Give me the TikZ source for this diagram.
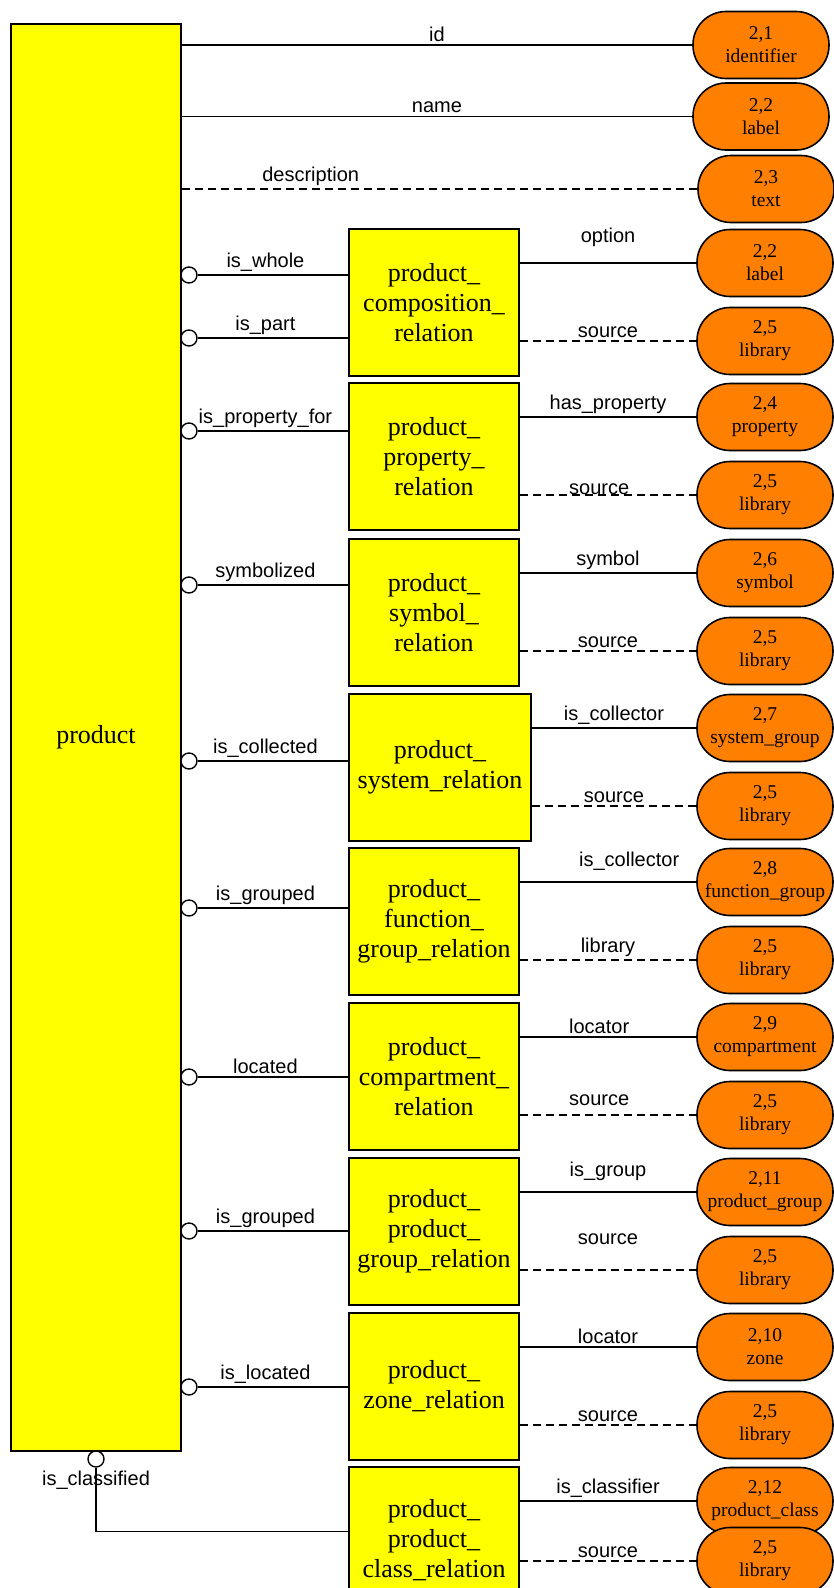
\documentclass[tikz,border=0pt]{standalone}
\usepackage{fontspec}
\setmainfont{Liberation Serif}
\newfontfamily\sansfnt{Liberation Sans}
\usepackage{xcolor}

\definecolor{entyellow}{RGB}{255,255,0}
\definecolor{attrorange}{RGB}{255,128,0}

\begin{document}
\begin{tikzpicture}[x=1pt, y=-1pt,
    entity/.style={draw, line width=1.6pt, fill=entyellow, inner sep=0pt, font=\fontsize{26}{30}\selectfont},
    relbox/.style={entity, minimum height=147pt, align=center},
    attr/.style={draw, line width=1.6pt, fill=attrorange, rounded corners=33pt, minimum width=136pt, minimum height=67pt, inner sep=0pt, align=center, font=\fontsize{19.5}{23}\selectfont},
    ring/.style={circle, draw, line width=1.4pt, fill=white, minimum size=16pt, inner sep=0pt},
    lbl/.style={font=\sansfnt\fontsize{20}{23}\selectfont, inner sep=3pt},
    link/.style={line width=1.4pt},
    optional/.style={link, dash pattern=on 8pt off 5pt}]

\useasboundingbox (0,0) rectangle (834,1588);

% the entity itself
\node[entity, minimum width=170pt, minimum height=1427pt] (prod) at (96,737.5) {product};

% its own attributes
\node[attr] (id) at (761,45) {2,1\\identifier};
\node[attr] (nm) at (761,116.5) {2,2\\label};
\node[attr] (ds) at (766,189) {2,3\\text};
\draw[link] (prod.east |- id) -- node[lbl,above] {id} (id);
\draw[link] (prod.east |- nm) -- node[lbl,above] {name} (nm);
\draw[optional] (prod.east |- ds) -- node[lbl,above,pos=.25] {description} (ds);

% relation boxes with their two attributes
\def\relations{
    1/229/434/170/product\_\\composition\_\\relation/{2,2}/label/112,
    2/383/434/170/product\_\\property\_\\relation/{2,4}/property/112,
    3/539/434/170/product\_\\symbol\_\\relation/{2,6}/symbol/112,
    4/694/440/182/product\_\\system\_relation/{2,7}/system\_group/112,
    5/848/434/170/product\_\\function\_\\group\_relation/{2,8}/function\_group/112,
    6/1003/434/170/product\_\\compartment\_\\relation/{2,9}/compartment/112,
    7/1158/434/170/product\_\\product\_\\group\_relation/{2,11}/product\_group/112,
    8/1313/434/170/product\_\\zone\_relation/{2,10}/zone/112,
    9/1467/434/170/product\_\\product\_\\class\_relation/{2,12}/product\_class/94}

\foreach \n/\ytop/\xc/\bw/\txt/\numa/\lbla/\offb in \relations {
    \node[relbox, minimum width=\bw pt] (r\n) at (\xc,\ytop+73.5) {\txt};
    \node[attr] (a\n) at (765,\ytop+34) {\numa\\\lbla};
    \node[attr] (b\n) at (765,\ytop+\offb) {2,5\\library};
}

% composition
\node[ring] (whole) at (189,275) {};
\node[ring] (part) at (189,338) {};
\draw[link] (whole) -- node[lbl,above,pos=.45] {is\_whole} (r1.west |- whole);
\draw[link] (part) -- node[lbl,above,pos=.45] {is\_part} (r1.west |- part);
\draw[link] (r1.east |- a1) -- node[lbl,above=13pt] {option} (a1);
\draw[optional] (r1.east |- b1) -- node[lbl,above] {source} (b1);

% property
\node[ring] (propfor) at (189,431) {};
\draw[link] (propfor) -- node[lbl,above,pos=.45] {is\_property\_for} (r2.west |- propfor);
\draw[link] (r2.east |- a2) -- node[lbl,above] {has\_property} (a2);
\draw[optional] (r2.east |- b2) -- node[lbl,above=-3pt,pos=.45] {source} (b2);

% symbol
\node[ring] (symb) at (189,585) {};
\draw[link] (symb) -- node[lbl,above,pos=.45] {symbolized} (r3.west |- symb);
\draw[link] (r3.east |- a3) -- node[lbl,above] {symbol} (a3);
\draw[optional] (r3.east |- b3) -- node[lbl,above] {source} (b3);

% system
\node[ring] (collect) at (189,761) {};
\draw[link] (collect) -- node[lbl,above,pos=.45] {is\_collected} (r4.west |- collect);
\draw[link] (r4.east |- a4) -- node[lbl,above] {is\_collector} (a4);
\draw[optional] (r4.east |- b4) -- node[lbl,above] {source} (b4);

% function group
\node[ring] (fgroup) at (189,908) {};
\draw[link] (fgroup) -- node[lbl,above,pos=.45] {is\_grouped} (r5.west |- fgroup);
\draw[link] (r5.east |- a5) -- node[lbl,above=8pt,pos=.62] {is\_collector} (a5);
\draw[optional] (r5.east |- b5) -- node[lbl,above] {library} (b5);

% compartment
\node[ring] (located) at (189,1077) {};
\draw[link] (located) -- node[lbl,above,pos=.45] {located} (r6.west |- located);
\draw[link] (r6.east |- a6) -- node[lbl,above,pos=.45] {locator} (a6);
\draw[optional] (r6.east |- b6) -- node[lbl,above=6pt,pos=.45] {source} (b6);

% product group
\node[ring] (pgroup) at (189,1231) {};
\draw[link] (pgroup) -- node[lbl,above,pos=.45] {is\_grouped} (r7.west |- pgroup);
\draw[link] (r7.east |- a7) -- node[lbl,above=8pt] {is\_group} (a7);
\draw[optional] (r7.east |- b7) -- node[lbl,above=22pt] {source} (b7);

% zone
\node[ring] (zlocated) at (189,1387) {};
\draw[link] (zlocated) -- node[lbl,above,pos=.45] {is\_located} (r8.west |- zlocated);
\draw[link] (r8.east |- a8) -- node[lbl,above] {locator} (a8);
\draw[optional] (r8.east |- b8) -- node[lbl,above] {source} (b8);

% classification, hooked under the entity
\node[ring] (classif) at (96,1459) {};
\draw[link] (classif) |- node[lbl,pos=.1] {is\_classified} ([yshift=9pt]r9.west);
\draw[link] (r9.east |- a9) -- node[lbl,above] {is\_classifier} (a9);
\draw[optional] (r9.east |- b9) -- node[lbl,above] {source} (b9);

\end{tikzpicture}
\end{document}
